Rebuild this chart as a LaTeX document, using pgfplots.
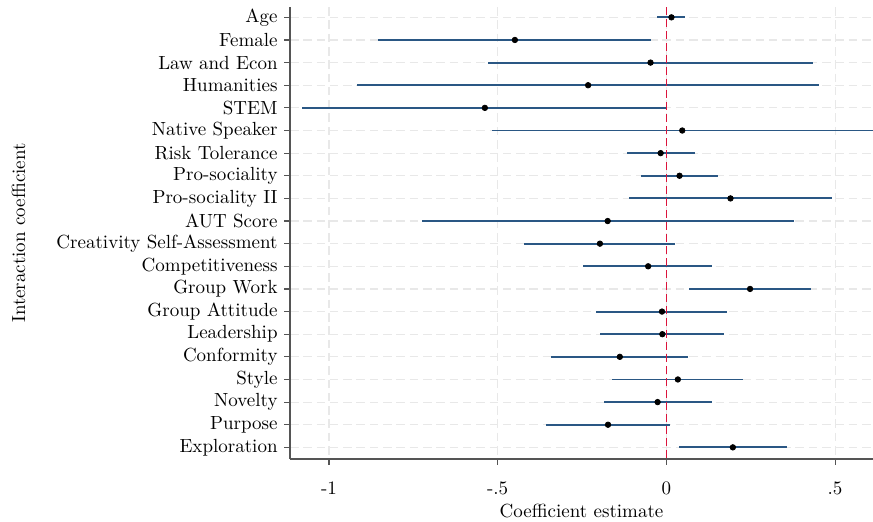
\documentclass[border=0pt]{standalone}
\usepackage{pgfplots}
\usepackage{pgfplotstable}
\pgfplotsset{compat=1.18}
\definecolor{lineblue}{HTML}{2A5784}
\definecolor{refred}{HTML}{DC143C}
\definecolor{axisgray}{HTML}{555555}
\pgfplotstableread{
y x lo hi
1 0.015 -0.027 0.054
2 -0.449 -0.855 -0.045
3 -0.047 -0.529 0.436
4 -0.232 -0.917 0.452
5 -0.538 -1.079 0.000
6 0.047 -0.517 0.640
7 -0.017 -0.117 0.085
8 0.039 -0.076 0.153
9 0.190 -0.111 0.491
10 -0.174 -0.725 0.377
11 -0.197 -0.423 0.027
12 -0.054 -0.246 0.136
13 0.248 0.066 0.429
14 -0.013 -0.208 0.181
15 -0.012 -0.196 0.171
16 -0.138 -0.342 0.063
17 0.034 -0.162 0.228
18 -0.026 -0.184 0.134
19 -0.173 -0.357 0.010
20 0.197 0.037 0.357
}\coefdata
\begin{document}
\begin{tikzpicture}
\useasboundingbox (-152.6pt,-32.6pt) rectangle (306.8pt,241.6pt);
\begin{axis}[
  at={(0,0)}, anchor=south west,
  scale only axis,
  width=306.8pt, height=237.9pt,
  xmin=-1.1156, xmax=0.6124,
  ymin=0.545, ymax=20.52,
  y dir=reverse,
  axis x line*=bottom, axis y line*=left,
  axis line style={axisgray, line width=0.7pt},
  tick style={axisgray, line width=0.6pt},
  tick align=outside,
  major tick length=3pt,
  xtick={-1,-0.5,0,0.5},
  xticklabels={{-1},{-.5},{0},{.5}},
  ytick={1,...,20},
  yticklabels={Age,Female,Law and Econ,Humanities,STEM,Native Speaker,Risk Tolerance,Pro-sociality,Pro-sociality II,AUT Score,Creativity Self-Assessment,Competitiveness,Group Work,Group Attitude,Leadership,Conformity,Style,Novelty,Purpose,Exploration},
  xmajorgrids, ymajorgrids,
  major grid style={gray!18, line width=0.6pt, dash pattern=on 4.5pt off 2.5pt},
  xlabel={Coefficient estimate},
  ylabel={Interaction coefficient},
  xticklabel style={yshift=-5.5pt},
  xlabel style={yshift=2pt},
  ylabel style={yshift=9.5pt},
  clip=true,
]
\addplot[draw=none, mark=none, forget plot,
  error bars/.cd, x dir=both, x explicit,
  error mark=none,
  error bar style={lineblue, line width=1pt}]
  table[x=x, y=y,
    x error plus expr=\thisrow{hi}-\thisrow{x},
    x error minus expr=\thisrow{x}-\thisrow{lo}] {\coefdata};
\addplot[refred, line width=0.8pt, dash pattern=on 4.2pt off 2.1pt, forget plot]
  coordinates {(0,0) (0,21)};
\addplot[only marks, mark=*, mark size=1.45pt, black, forget plot]
  table[x=x, y=y] {\coefdata};
\end{axis}
\end{tikzpicture}
\end{document}
